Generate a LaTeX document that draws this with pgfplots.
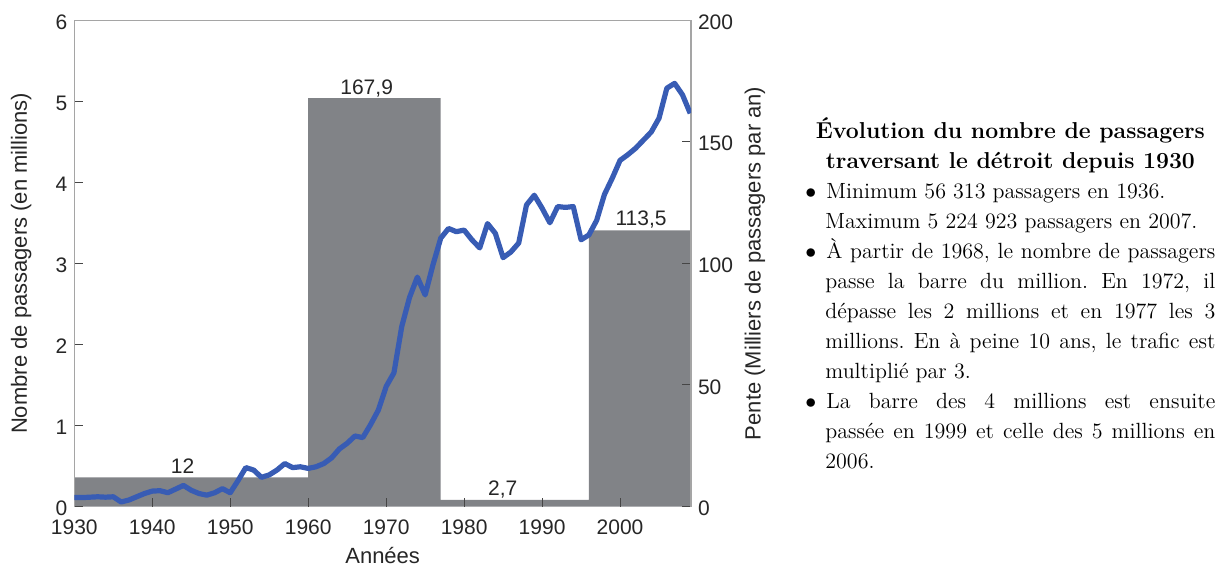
\documentclass[border=0pt]{standalone}
\usepackage{fontspec}
\usepackage{pgfplots}
\pgfplotsset{compat=1.18}
\newfontfamily\arial{Liberation Sans}
\definecolor{bargray}{RGB}{129,131,135}
\definecolor{lineblue}{RGB}{56,92,180}
\definecolor{framegray}{RGB}{165,165,165}
\definecolor{tickgray}{RGB}{70,70,70}
\frenchspacing
\begin{document}
\begin{tikzpicture}
\pgfplotsset{
  common/.style={
    scale only axis, width=308.35pt, height=243.2pt,
    at={(0pt,0pt)}, anchor=south west,
    xmin=1930, xmax=2009.1,
    /pgf/number format/assume math mode=true,
    tick label style={font=\arial\fontsize{10.5}{12}\selectfont, text=black!85},
    label style={font=\arial\fontsize{11}{13}\selectfont, text=black!85},
    major tick length=4.5pt,
    tick style={tickgray, line width=0.5pt},
    axis line style={framegray, line width=0.6pt},
  }
}
% right axis with the slope bars
\begin{axis}[common,
  ymin=0, ymax=200,
  axis y line*=right, axis x line=none,
  tick align=inside,
  ytick={0,50,100,150,200},
  yticklabel style={yshift=-1pt},
  ylabel={Pente (Milliers de passagers par an)},
  ylabel style={at={(axis description cs:1,0.5)}, anchor=center, yshift=-32pt},
  axis on top,
]
\addplot[const plot, fill=bargray, draw=none] coordinates {(1930,12) (1960,167.9) (1977,2.7) (1996,113.5) (2009.1,113.5)} \closedcycle;
\node[anchor=base, yshift=2pt, font=\arial\fontsize{10.5}{12}\selectfont, text=black!85] at (axis cs:1943.9,12) {12};
\node[anchor=base, yshift=2pt, font=\arial\fontsize{10.5}{12}\selectfont, text=black!85] at (axis cs:1967.5,167.9) {167,9};
\node[anchor=base, yshift=2pt, font=\arial\fontsize{10.5}{12}\selectfont, text=black!85] at (axis cs:1984.95,2.7) {2,7};
\node[anchor=base, yshift=2.5pt, font=\arial\fontsize{10.5}{12}\selectfont, text=black!85] at (axis cs:2002.7,113.5) {113,5};
\end{axis}
% left axis with the passenger line
\begin{axis}[common,
  ymin=0, ymax=6,
  axis y line*=left, axis x line*=bottom,
  x axis line style={draw=none},
  tick align=inside,
  ytick={0,1,2,3,4,5,6},
  yticklabel style={yshift=-1pt},
  xtick={1930,1940,1950,1960,1970,1980,1990,2000},
  xticklabel style={/pgf/number format/1000 sep={}, yshift=-3pt},
  ylabel={Nombre de passagers (en millions)},
  ylabel style={at={(axis description cs:0,0.5)}, anchor=center, yshift=26.6pt},
  xlabel={Années},
  xlabel style={at={(axis description cs:0.5,0)}, anchor=center, yshift=-24.5pt},
]
\draw[framegray, line width=0.6pt] (axis description cs:0,1) -- (axis description cs:1,1);
\addplot[lineblue, line width=2.6pt, line join=round, mark=none] coordinates {
(1930,0.11) (1931,0.11) (1932,0.115) (1933,0.12) (1934,0.115) (1935,0.12)
(1936,0.056) (1937,0.08) (1938,0.12) (1939,0.16) (1940,0.19) (1941,0.195)
(1942,0.17) (1943,0.215) (1944,0.26) (1945,0.20) (1946,0.16) (1947,0.14)
(1948,0.17) (1949,0.22) (1950,0.17) (1951,0.32) (1952,0.48) (1953,0.45)
(1954,0.36) (1955,0.39) (1956,0.45) (1957,0.53) (1958,0.48) (1959,0.49)
(1960,0.47) (1961,0.49) (1962,0.53) (1963,0.60) (1964,0.71) (1965,0.78)
(1966,0.87) (1967,0.85) (1968,1.01) (1969,1.19) (1970,1.48) (1971,1.65)
(1972,2.22) (1973,2.58) (1974,2.83) (1975,2.61) (1976,2.98) (1977,3.31)
(1978,3.43) (1979,3.39) (1980,3.41) (1981,3.29) (1982,3.19) (1983,3.49)
(1984,3.37) (1985,3.07) (1986,3.14) (1987,3.25) (1988,3.72) (1989,3.84)
(1990,3.68) (1991,3.50) (1992,3.70) (1993,3.69) (1994,3.70) (1995,3.29)
(1996,3.35) (1997,3.53) (1998,3.85) (1999,4.05) (2000,4.27) (2001,4.34)
(2002,4.42) (2003,4.52) (2004,4.62) (2005,4.79) (2006,5.16) (2007,5.22)
(2008,5.08) (2009,4.85)};
\end{axis}
\node[anchor=base west, text width=205pt, inner sep=0pt, align=justify, font=\fontsize{11}{15}\selectfont] at (365.35pt,184.25pt) {%
{\centering\fontsize{11.5}{15}\selectfont\bfseries Évolution du nombre de passagers\par traversant le détroit depuis 1930\par}%
\begin{list}{$\bullet$}{\setlength\leftmargin{10pt}\setlength\labelwidth{5pt}\setlength\labelsep{5pt}%
\setlength\topsep{0pt}\setlength\partopsep{0pt}\setlength\itemsep{0pt}\setlength\parsep{0pt}}
\item Minimum 56 313 passagers en 1936.\newline Maximum 5 224 923 passagers en 2007.
\item À partir de 1968, le nombre de passagers\linebreak passe la barre du million. En 1972, il\linebreak dépasse les 2 millions et en 1977 les 3\linebreak millions. En à peine 10 ans, le trafic est\linebreak multiplié par 3.
\item La barre des 4 millions est ensuite\linebreak passée en 1999 et celle des 5 millions en\linebreak 2006.
\end{list}};
\pgfresetboundingbox
\path (-37.15pt,-31.25pt) rectangle (577.35pt,253.25pt);
\end{tikzpicture}
\end{document}
